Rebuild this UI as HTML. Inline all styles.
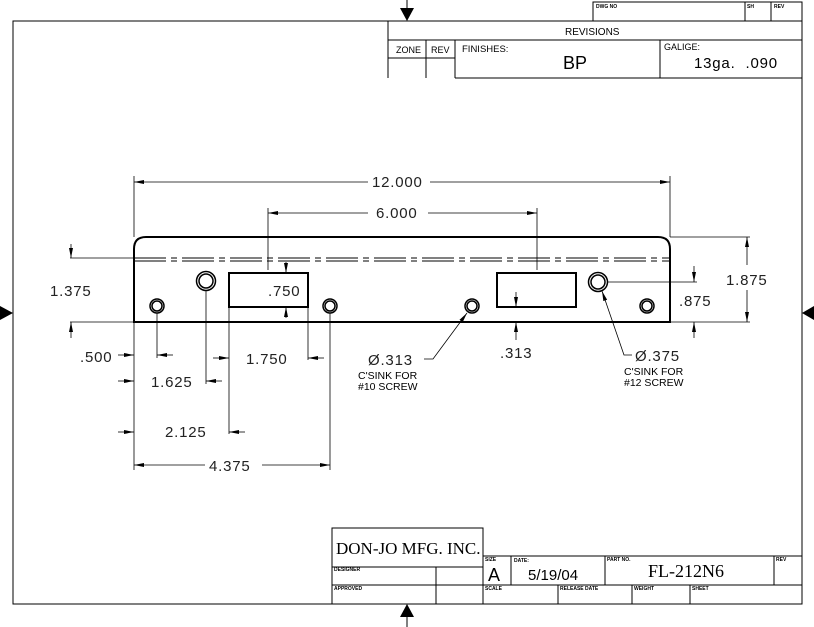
<!DOCTYPE html>
<html><head><meta charset="utf-8"><style>
html,body{margin:0;padding:0;background:#fff;}
svg{display:block;}
text{font-family:"Liberation Sans",sans-serif;fill:#000;}
.d{font-size:15px;letter-spacing:0.8px;fill:#222;}
.s{font-size:5px;font-weight:bold;}
</style></head><body>
<svg width="814" height="627" viewBox="0 0 814 627" xmlns="http://www.w3.org/2000/svg">
<defs>
<marker id="a" viewBox="0 0 10 6" refX="10" refY="3" markerWidth="10" markerHeight="6" orient="auto-start-reverse" markerUnits="userSpaceOnUse">
<path d="M0,1 L10,3 L0,5 z" fill="#000"/></marker>
</defs>
<g fill="none" stroke="#000" stroke-width="1">
<rect x="13" y="21" width="789" height="583"/>
<rect x="593" y="2" width="209" height="19"/>
<line x1="745" y1="2" x2="745" y2="21"/><line x1="771" y1="2" x2="771" y2="21"/>
<line x1="388" y1="21" x2="388" y2="78"/>
<line x1="388" y1="40" x2="802" y2="40"/>
<line x1="388" y1="58" x2="455" y2="58"/>
<line x1="426" y1="40" x2="426" y2="78"/>
<line x1="455" y1="40" x2="455" y2="78"/>
<line x1="660" y1="40" x2="660" y2="78"/>
<line x1="455" y1="78" x2="802" y2="78"/>
<rect x="332" y="528" width="151" height="39"/>
<line x1="332" y1="567" x2="332" y2="604"/>
<line x1="332" y1="585" x2="802" y2="585"/>
<line x1="483" y1="556" x2="802" y2="556"/>
<line x1="436" y1="567" x2="436" y2="604"/>
<line x1="483" y1="556" x2="483" y2="604"/>
<line x1="511" y1="556" x2="511" y2="585"/>
<line x1="605" y1="556" x2="605" y2="585"/>
<line x1="774" y1="556" x2="774" y2="585"/>
<line x1="558" y1="585" x2="558" y2="604"/>
<line x1="632" y1="585" x2="632" y2="604"/>
<line x1="690" y1="585" x2="690" y2="604"/>
<line x1="407" y1="0" x2="407" y2="10"/><line x1="407" y1="612" x2="407" y2="627"/>
</g>
<g fill="#000">
<path d="M400,8 L414,8 L407,21 z"/>
<path d="M400,617 L414,617 L407,604 z"/>
<path d="M0,306 L0,320 L13,313 z"/>
<path d="M814,306 L814,320 L802,313 z"/>
</g>
<g fill="none" stroke="#000">
<path d="M134,322 L134,249 Q134,237 146,237 L658,237 Q670,237 670,249 L670,322 Z" stroke-width="2"/>
<line x1="134" y1="258" x2="670" y2="258" stroke-dasharray="32,5,6,5" stroke-width="1"/>
<line x1="134" y1="261" x2="670" y2="261" stroke-dasharray="32,5,6,5" stroke-width="1"/>
<rect x="229" y="273" width="79" height="34" stroke-width="2"/>
<rect x="497" y="273" width="79" height="34" stroke-width="2"/>
<g stroke-width="1.5">
<circle cx="157" cy="306" r="7"/><circle cx="157" cy="306" r="5"/>
<circle cx="330" cy="306" r="7"/><circle cx="330" cy="306" r="5"/>
<circle cx="472" cy="306" r="7"/><circle cx="472" cy="306" r="5"/>
<circle cx="647" cy="306" r="7"/><circle cx="647" cy="306" r="5"/>
<circle cx="206" cy="281" r="9.5"/><circle cx="206" cy="281" r="7"/>
<circle cx="598" cy="282" r="9.5"/><circle cx="598" cy="282" r="7"/>
</g>
</g>
<g fill="none" stroke="#000" stroke-width="0.8">
<line x1="134" y1="176" x2="134" y2="237"/><line x1="670" y1="176" x2="670" y2="237"/>
<line x1="134" y1="182" x2="368" y2="182" marker-start="url(#a)"/>
<line x1="430" y1="182" x2="670" y2="182" marker-end="url(#a)"/>
<line x1="268" y1="208" x2="268" y2="270"/><line x1="537" y1="208" x2="537" y2="270"/>
<line x1="268" y1="213" x2="368" y2="213" marker-start="url(#a)"/>
<line x1="428" y1="213" x2="537" y2="213" marker-end="url(#a)"/>
<line x1="286" y1="262" x2="286" y2="273" marker-end="url(#a)"/>
<line x1="286" y1="318" x2="286" y2="307" marker-end="url(#a)"/>
<line x1="70" y1="258" x2="133" y2="258"/><line x1="70" y1="322" x2="133" y2="322"/>
<line x1="71" y1="244" x2="71" y2="258" marker-end="url(#a)"/>
<line x1="71" y1="338" x2="71" y2="322" marker-end="url(#a)"/>
<line x1="670" y1="237" x2="750" y2="237"/><line x1="670" y1="322" x2="750" y2="322"/>
<line x1="747" y1="265" x2="747" y2="237" marker-end="url(#a)"/>
<line x1="747" y1="290" x2="747" y2="322" marker-end="url(#a)"/>
<line x1="607" y1="282" x2="697" y2="282"/>
<line x1="694" y1="266" x2="694" y2="282" marker-end="url(#a)"/>
<line x1="694" y1="338" x2="694" y2="322" marker-end="url(#a)"/>
<line x1="516" y1="292" x2="516" y2="307" marker-end="url(#a)"/>
<line x1="516" y1="340" x2="516" y2="322" marker-end="url(#a)"/>
<line x1="134" y1="322" x2="134" y2="470"/>
<line x1="157" y1="313" x2="157" y2="358"/>
<line x1="206" y1="290" x2="206" y2="384"/>
<line x1="229" y1="307" x2="229" y2="434"/>
<line x1="308" y1="307" x2="308" y2="360"/>
<line x1="330" y1="313" x2="330" y2="470"/>
<line x1="118" y1="355" x2="134" y2="355" marker-end="url(#a)"/>
<line x1="173" y1="355" x2="157" y2="355" marker-end="url(#a)"/>
<line x1="118" y1="381" x2="134" y2="381" marker-end="url(#a)"/>
<line x1="222" y1="381" x2="206" y2="381" marker-end="url(#a)"/>
<line x1="213" y1="358" x2="229" y2="358" marker-end="url(#a)"/>
<line x1="324" y1="358" x2="308" y2="358" marker-end="url(#a)"/>
<line x1="118" y1="432" x2="134" y2="432" marker-end="url(#a)"/>
<line x1="245" y1="432" x2="229" y2="432" marker-end="url(#a)"/>
<line x1="134" y1="465" x2="205" y2="465" marker-start="url(#a)"/>
<line x1="262" y1="465" x2="330" y2="465" marker-end="url(#a)"/>
<polyline points="424,359 433,359 467,313" marker-end="url(#a)"/>
<polyline points="632,355 624,355 602,291" marker-end="url(#a)"/>
</g>
<text x="565" y="35" style="font-size:10px">REVISIONS</text>
<text x="396" y="53" style="font-size:9px">ZONE</text>
<text x="431" y="53" style="font-size:9px">REV</text>
<text x="462" y="52" style="font-size:9.5px">FINISHES:</text>
<text x="563" y="69" style="font-size:18px">BP</text>
<text x="664" y="50" style="font-size:9px">GALIGE:</text>
<text x="694" y="68" style="font-size:15px;letter-spacing:0.8px" xml:space="preserve">13ga.  .090</text>
<text x="596" y="8" class="s">DWG NO</text>
<text x="747" y="8" class="s">SH</text>
<text x="774" y="8" class="s">REV</text>
<text class="d" x="372" y="187">12.000</text>
<text class="d" x="376" y="218">6.000</text>
<text class="d" x="268" y="296">.750</text>
<text class="d" x="50" y="296">1.375</text>
<text class="d" x="726" y="285">1.875</text>
<text class="d" x="679" y="306">.875</text>
<text class="d" x="500" y="358">.313</text>
<text class="d" x="80" y="362">.500</text>
<text class="d" x="151" y="387">1.625</text>
<text class="d" x="246" y="364">1.750</text>
<text class="d" x="165" y="437">2.125</text>
<text class="d" x="209" y="471">4.375</text>
<text class="d" x="368" y="365">Ø.313</text>
<text x="358" y="379" style="font-size:10.5px">C'SINK FOR</text>
<text x="358" y="390" style="font-size:10.5px">#10 SCREW</text>
<text class="d" x="635" y="361">Ø.375</text>
<text x="624" y="375" style="font-size:10.5px">C'SINK FOR</text>
<text x="624" y="386" style="font-size:10.5px">#12 SCREW</text>
<text x="336" y="554" style="font-family:'Liberation Serif',serif;font-size:17px">DON-JO MFG. INC.</text>
<text x="334" y="571" class="s">DESIGNER</text>
<text x="334" y="590" class="s">APPROVED</text>
<text x="485" y="561" class="s">SIZE</text>
<text x="488" y="581" style="font-size:18px">A</text>
<text x="514" y="562" class="s">DATE:</text>
<text x="528" y="580" style="font-size:15px">5/19/04</text>
<text x="607" y="561" class="s">PART NO.</text>
<text x="648" y="577" style="font-family:'Liberation Serif',serif;font-size:18px">FL-212N6</text>
<text x="776" y="561" class="s">REV</text>
<text x="485" y="590" class="s">SCALE</text>
<text x="560" y="590" class="s">RELEASE DATE</text>
<text x="634" y="590" class="s">WEIGHT</text>
<text x="692" y="590" class="s">SHEET</text>
</svg>
</body></html>
